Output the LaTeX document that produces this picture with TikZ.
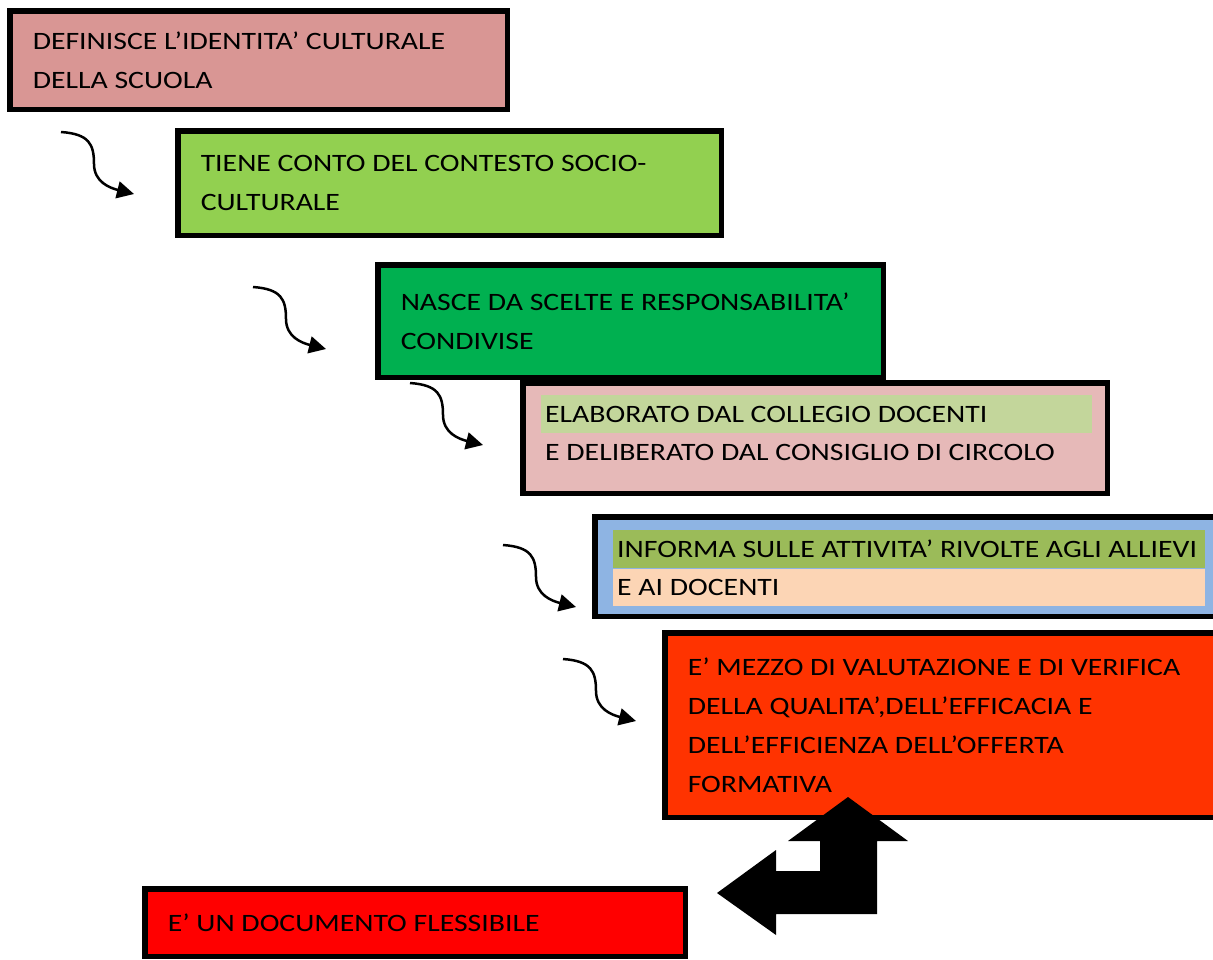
\documentclass[tikz,border=0pt]{standalone}
\usepackage{fontspec}
\setmainfont{Carlito}[FakeStretch=1.19]
\usetikzlibrary{arrows.meta, positioning, calc}
\definecolor{roseBox}{HTML}{D99694}
\definecolor{limeBox}{HTML}{92D050}
\definecolor{greenBox}{HTML}{00B050}
\definecolor{pinkBox}{HTML}{E6B9B8}
\definecolor{sageMark}{HTML}{C3D69B}
\definecolor{skyBox}{HTML}{8EB4E3}
\definecolor{oliveMark}{HTML}{9BBB59}
\definecolor{peachMark}{HTML}{FCD5B5}
\definecolor{flameBox}{HTML}{FF3300}
\definecolor{redBox}{HTML}{FF0000}
\tikzset{
    pofbox/.style={draw=black, line width=5.5pt, anchor=north west, align=flush left,
        inner xsep=23pt, inner ysep=0pt, font=\fontsize{25}{39}\selectfont},
    markline/.style={anchor=north west, align=flush left, inner xsep=4pt, inner ysep=0pt,
        minimum height=38pt, font=\fontsize{25}{39}\selectfont},
    curl/.style={line width=2.5pt, -{Triangle[length=17pt,width=17pt]}}
}

\begin{document}
\begin{tikzpicture}[x=1pt, y=-1pt]
        \useasboundingbox (0,0) rectangle (1213,959);

        % identity of the school
        \node[pofbox, fill=roseBox, minimum width=497.5pt, minimum height=98.5pt, text width=451.5pt]
            (b1) at (7,8) {DEFINISCE L’IDENTITA’ CULTURALE\\DELLA SCUOLA};

        % context
        \node[pofbox, fill=limeBox, minimum width=543.5pt, minimum height=104.5pt, text width=497.5pt]
            (b2) at (175,128) {TIENE CONTO DEL CONTESTO SOCIO-\\CULTURALE};

        % shared choices
        \node[pofbox, fill=greenBox, minimum width=505.5pt, minimum height=112.5pt, text width=459.5pt]
            (b3) at (375,262) {NASCE DA SCELTE E RESPONSABILITA’\\CONDIVISE};

        % collegio / consiglio
        \node[pofbox, fill=pinkBox, minimum width=584.5pt, minimum height=110.5pt] (b4) at (520,380) {};
        \node[markline, fill=sageMark, text width=543pt] (l4a) at ([shift={(21,15)}]b4.north west)
            {ELABORATO DAL COLLEGIO DOCENTI};
        \node[markline, text width=543pt] (l4b) at (l4a.south west)
            {E DELIBERATO DAL CONSIGLIO DI CIRCOLO};

        % information
        \node[pofbox, fill=skyBox, minimum width=627.5pt, minimum height=99.5pt] (b5) at (592,514) {};
        \node[markline, fill=oliveMark, text width=584pt] (l5a) at ([shift={(21,16)}]b5.north west)
            {INFORMA SULLE ATTIVITA’ RIVOLTE AGLI ALLIEVI};
        \node[markline, fill=peachMark, text width=584pt, minimum height=37pt] (l5b) at (l5a.south west)
            {E AI DOCENTI};

        % evaluation
        \node[pofbox, fill=flameBox, minimum width=557.5pt, minimum height=184.5pt, text width=511.5pt]
            (b6) at (662,630) {E’ MEZZO DI VALUTAZIONE E DI VERIFICA\\DELLA QUALITA’,DELL’EFFICACIA E\\DELL’EFFICIENZA DELL’OFFERTA\\FORMATIVA};

        % flexible
        \node[pofbox, fill=redBox, minimum width=540.5pt, minimum height=67.5pt, text width=494.5pt]
            (b7) at (142,886) {E’ UN DOCUMENTO FLESSIBILE};

        % curly arrows between the steps
        \foreach \sx/\sy [count=\i] in {61/132, 253/287, 410/383, 503/545, 563/659} {
            \coordinate (cs\i) at (\sx,\sy);
            \coordinate (cm\i) at ($(cs\i)+(33,32)$);
            \coordinate (ce\i) at ($(cs\i)+(73,62)$);
            \draw[curl] (cs\i) .. controls +(28,2) and +(0,-20) .. (cm\i)
                .. controls +(0,18) and +(-24,-6) .. (ce\i);
        }

        % bent double arrow
        \fill[black] (848,797) -- (908,841) -- (877,841) -- (877,914) -- (776,914) -- (776,935)
            -- (717,893) -- (776,850) -- (776,871) -- (820,871) -- (820,841) -- (788,841) -- cycle;
\end{tikzpicture}
\end{document}
